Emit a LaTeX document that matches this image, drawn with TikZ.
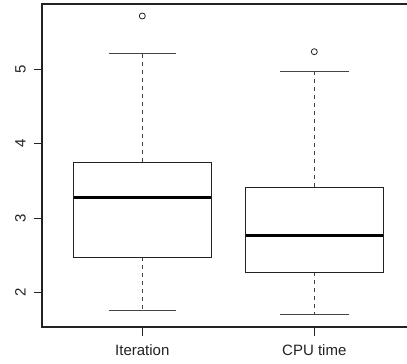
\documentclass[tikz,border=0pt]{standalone}
\usepackage{fontspec}
\setmainfont{Liberation Sans}
\definecolor{ink}{HTML}{222222}
\definecolor{wink}{HTML}{444444}
\begin{document}
\begin{tikzpicture}[x=1pt,y=-1pt,
  frame/.style={draw=ink,line width=1.1pt},
  tck/.style={draw=ink,line width=1pt},
  bxline/.style={draw=ink,line width=1pt},
  medline/.style={draw=black,line width=3pt},
  whisk/.style={draw=wink,line width=1pt,dash pattern=on 4pt off 4pt},
  capline/.style={draw=wink,line width=1pt},
  outl/.style={draw=ink,line width=0.8pt,circle,minimum size=6pt,inner sep=0pt},
  lbl/.style={font=\fontsize{15}{18}\selectfont,inner sep=0pt,text=ink},
  ylbl/.style={lbl,rotate=90}]
\useasboundingbox (0,0) rectangle (407,364);
% frame
\draw[frame] (407,4) -- (42,4) -- (42,327) -- (407,327);
% y axis ticks and labels
\foreach \v/\yy in {2/292.3,3/218,4/143.7,5/69.4}{
  \draw[tck] (42,\yy) -- (33.5,\yy);
  \node[ylbl] (y\v) at (20.5,\yy) {\v};
}
% x axis ticks and labels
\draw[tck] (142.3,327) -- (142.3,335.5);
\draw[tck] (314.3,327) -- (314.3,335.5);
\node[lbl] (lab1) at (142.3,350.5) {Iteration};
\node[lbl] (lab2) at (314.3,350.5) {CPU time};
% Iteration box
\coordinate (i1lo) at (142.3,257);
\coordinate (i1hi) at (142.3,162.3);
\coordinate (i1wl) at (142.3,310);
\coordinate (i1wh) at (142.3,53.3);
\draw[whisk] (i1hi) -- (i1wh);
\draw[whisk] (i1lo) -- (i1wl);
\draw[capline] (108.7,53.3) -- (176,53.3);
\draw[capline] (108.7,310) -- (176,310);
\draw[bxline] (73.3,162.3) rectangle (211,257);
\draw[medline] (73.8,197) -- (210.5,197);
\node[outl] (o1) at (142.3,16) {};
% CPU box
\coordinate (c1lo) at (314.3,272);
\coordinate (c1hi) at (314.3,187);
\coordinate (c1wl) at (314.3,314.7);
\coordinate (c1wh) at (314.3,71);
\draw[whisk] (c1hi) -- (c1wh);
\draw[whisk] (c1lo) -- (c1wl);
\draw[capline] (280,71) -- (349,71);
\draw[capline] (280,314.7) -- (349,314.7);
\draw[bxline] (245.7,187) rectangle (383,272);
\draw[medline] (246.2,235.7) -- (382.5,235.7);
\node[outl] (o2) at (314.3,51.7) {};
\end{tikzpicture}
\end{document}
